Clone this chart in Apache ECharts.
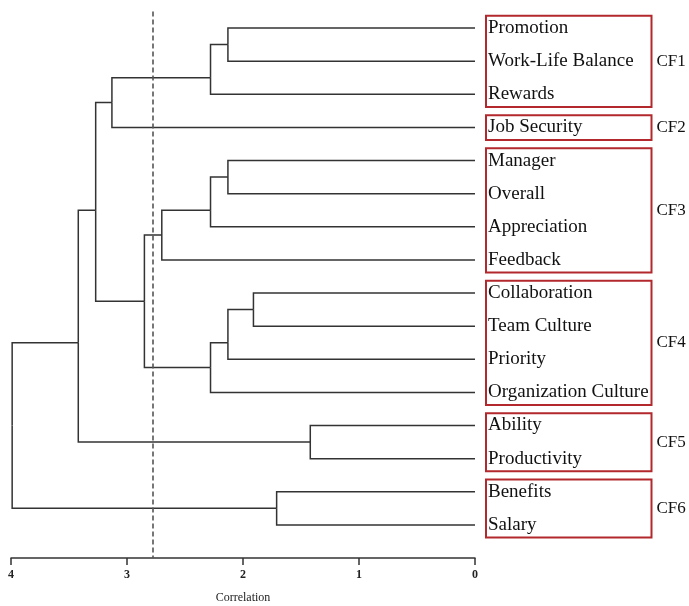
<!DOCTYPE html>
<html>
<head>
<meta charset="utf-8">
<script src="https://cdn.jsdelivr.net/npm/echarts@6/dist/echarts.min.js"></script>
<style>
html,body{margin:0;padding:0;background:#fff;}
#chart{width:689px;height:606px;}
</style>
</head>
<body>
<div id="chart"></div>
<script>
// Leaves (top to bottom)
const leaves = ['Promotion','Work-Life Balance','Rewards','Job Security','Manager','Overall','Appreciation','Feedback','Collaboration','Team Culture','Priority','Organization Culture','Ability','Productivity','Benefits','Salary'];
// Merges: child indices (<16 leaf, >=16 merge 16+k), merge height, vertical position of merge node
const mergeLeft   = [0, 16, 17, 4, 19, 20, 8, 22, 23, 21, 18, 12, 26, 14, 28];
const mergeRight  = [1, 2, 3, 5, 6, 7, 9, 10, 11, 24, 25, 13, 27, 15, 29];
const mergeHeight = [2.13, 2.28, 3.13, 2.13, 2.28, 2.70, 1.91, 2.13, 2.28, 2.85, 3.27, 1.42, 3.42, 1.71, 3.99];
const mergePos    = [0.5, 1.5, 2.25, 4.5, 5.5, 6.25, 8.5, 9.5, 10.25, 8.25, 5.5, 12.5, 9.5, 14.5, 12];
// Cut threshold
const cutHeight = 2.78;
// Clusters
const clusterNames = ['CF1','CF2','CF3','CF4','CF5','CF6'];
const clusterStart = [0, 3, 4, 8, 12, 14];
const clusterEnd   = [2, 3, 7, 11, 13, 15];
// Axis ticks
const xTicks = [0, 1, 2, 3, 4];

const N = leaves.length;
function h(i){ return i < N ? 0 : mergeHeight[i - N]; }
function p(i){ return i < N ? i : mergePos[i - N]; }

const segs = [];
for (let k = 0; k < mergeHeight.length; k++) {
  [mergeLeft[k], mergeRight[k]].forEach(c => {
    segs.push([h(c), p(c), mergeHeight[k], p(c), mergeHeight[k], mergePos[k]]);
  });
}

const FONT = '"Liberation Serif", "Times New Roman", serif';
const chart = echarts.init(document.getElementById('chart'));
chart.setOption({
  animation: false,
  grid: {left: 11, right: 214, top: 11.5, bottom: 48, containLabel: false, outerBoundsMode: 'none'},
  xAxis: {
    type: 'value', inverse: true, min: 0, max: 4, interval: 1,
    name: 'Correlation', nameLocation: 'middle', nameGap: 34,
    nameTextStyle: {fontFamily: FONT, fontSize: 12, color: '#222'},
    axisLine: {show: true, onZero: false, lineStyle: {color: '#333', width: 1.5}},
    axisTick: {show: true, length: 7, lineStyle: {color: '#333', width: 1.5}},
    axisLabel: {fontFamily: FONT, fontSize: 12, color: '#222', fontWeight: 'bold', margin: 11,
      formatter: v => xTicks.indexOf(v) >= 0 ? String(v) : ''},
    splitLine: {show: false}
  },
  yAxis: {type: 'value', inverse: true, min: -0.5, max: 16, show: false},
  series: [
    {
      type: 'custom',
      data: segs,
      renderItem: function (params, api) {
        const a = api.coord([api.value(0), api.value(1)]);
        const b = api.coord([api.value(2), api.value(3)]);
        const c = api.coord([api.value(4), api.value(5)]);
        return {type: 'polyline', shape: {points: [a, b, c]},
          style: {stroke: '#333', lineWidth: 1.5, fill: null}};
      },
      markLine: {
        silent: true, symbol: 'none', label: {show: false},
        lineStyle: {type: [5, 3], color: '#555', width: 1.6},
        data: [{xAxis: cutHeight}]
      }
    },
    {
      type: 'custom',
      data: leaves.map((name, i) => [0, i]),
      renderItem: function (params, api) {
        const pt = api.coord([api.value(0), api.value(1)]);
        return {type: 'text', x: pt[0] + 13, y: pt[1],
          style: {text: leaves[params.dataIndex], fontFamily: FONT, fontSize: 19,
            fill: '#111', verticalAlign: 'middle', align: 'left'}};
      }
    },
    {
      type: 'custom',
      data: clusterNames.map((n, i) => [0, clusterStart[i], clusterEnd[i]]),
      renderItem: function (params, api) {
        const t = api.coord([0, api.value(1) - 0.37]);
        const b = api.coord([0, api.value(2) + 0.38]);
        const x0 = t[0] + 11, x1 = t[0] + 176.5;
        return {type: 'group', children: [
          {type: 'rect', shape: {x: x0, y: t[1], width: x1 - x0, height: b[1] - t[1]},
            style: {fill: null, stroke: '#b2282c', lineWidth: 2}},
          {type: 'text', x: x1 + 5, y: (t[1] + b[1]) / 2,
            style: {text: clusterNames[params.dataIndex], fontFamily: FONT, fontSize: 17,
              fill: '#111', verticalAlign: 'middle', align: 'left'}}
        ]};
      }
    }
  ]
});
</script>
</body>
</html>
